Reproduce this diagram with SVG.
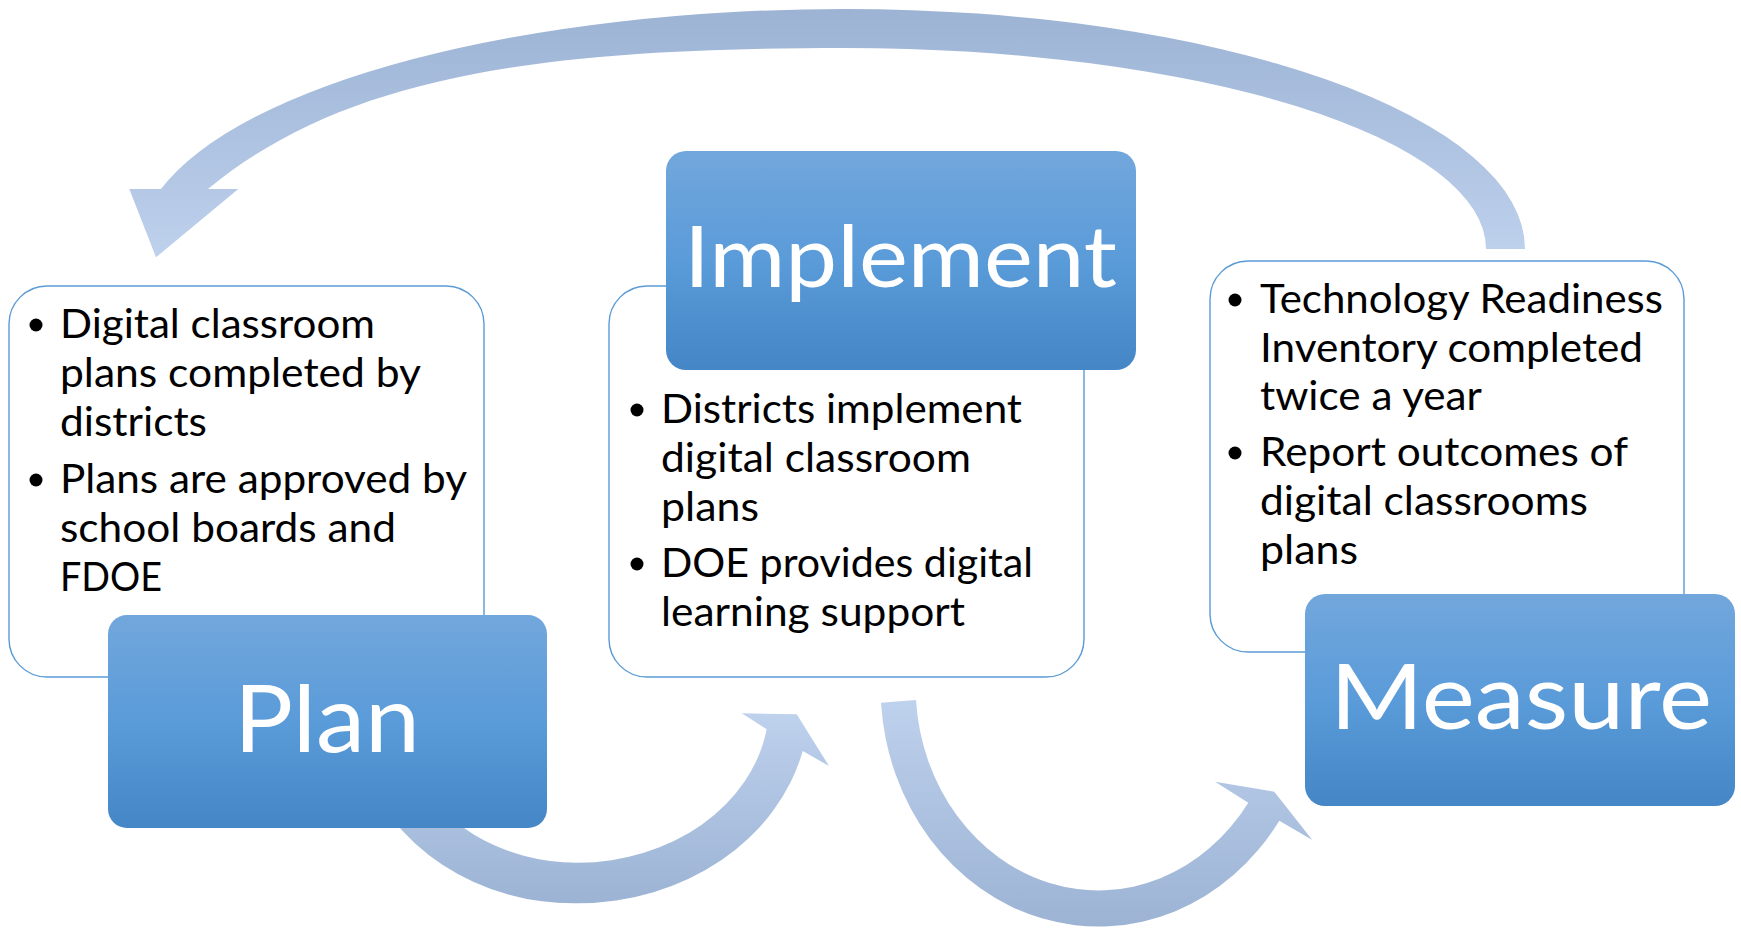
<svg xmlns="http://www.w3.org/2000/svg" width="1741" height="931" viewBox="0 0 1741 931">
<style>
.tb{fill:#ffffff;stroke:#5b9bd5;stroke-width:1.4}
.lb{fill:url(#gLabel)}
.body{font-family:Lato,"Open Sans","Liberation Sans",sans-serif;font-size:40px;fill:#000000}
.title{font-family:Lato,"Open Sans","Liberation Sans",sans-serif;fill:#ffffff;text-anchor:middle}
.dot{fill:#000000}
</style>
<defs>
<linearGradient id="gLabel" x1="0" y1="0" x2="0" y2="1">
<stop offset="0" stop-color="#72a7dc"/>
<stop offset="0.5" stop-color="#5a9bd9"/>
<stop offset="1" stop-color="#4486c6"/>
</linearGradient>
<linearGradient id="gTop" x1="0" y1="0" x2="0" y2="1">
<stop offset="0" stop-color="#9cb3d4"/>
<stop offset="1" stop-color="#bed1ed"/>
</linearGradient>
<linearGradient id="gBottom" x1="0" y1="0" x2="0" y2="1">
<stop offset="0" stop-color="#bed1ed"/>
<stop offset="1" stop-color="#9cb3d4"/>
</linearGradient>
</defs>
<rect width="1741" height="931" fill="#ffffff"/>
<g id="connectors">
<path id="arrow-measure-plan" fill="url(#gTop)" d="M 1525 249 A 680 240 0 0 0 845 9 A 706 240 0 0 0 161 189 L 129.3 189 L 156 257.3 L 238.3 189 L 208 189 C 346.9 74.4 545 48 845 48 A 641 201 0 0 1 1486 249 Z"/>
<path id="arrow-plan-implement" fill="url(#gBottom)" d="M 360.6 760 A 222 200 0 0 0 578 903.3 A 232 200 0 0 0 802.7 751 L 829 766 L 796.7 714.3 L 741.7 713.3 L 766.7 729.3 A 192 159.4 0 0 1 578 862.7 A 182 159.4 0 0 1 407 760 Z"/>
<path id="arrow-implement-measure" fill="url(#gBottom)" d="M 881 702.7 A 218 240 0 0 0 1279.3 820.7 L 1312.3 840 L 1274.3 791.7 L 1215 781.7 L 1248.3 802.7 A 182.7 204.4 0 0 1 916 700 Z"/>
</g>
<g id="node-plan">
<rect class="tb" x="9" y="286" width="475" height="391" rx="38" ry="38"/>
<circle class="dot" cx="36" cy="325" r="6.5"/>
<circle class="dot" cx="36" cy="480" r="6.5"/>
<text class="body" x="60" y="338" textLength="315" lengthAdjust="spacingAndGlyphs">Digital classroom</text>
<text class="body" x="60" y="387" textLength="361" lengthAdjust="spacingAndGlyphs">plans completed by</text>
<text class="body" x="60" y="436" textLength="147" lengthAdjust="spacingAndGlyphs">districts</text>
<text class="body" x="60" y="493" textLength="407" lengthAdjust="spacingAndGlyphs">Plans are approved by</text>
<text class="body" x="60" y="542" textLength="336" lengthAdjust="spacingAndGlyphs">school boards and</text>
<text class="body" x="60" y="591" textLength="102" lengthAdjust="spacingAndGlyphs">FDOE</text>
<rect class="lb" x="108" y="615" width="439" height="213" rx="19" ry="19"/>
<text class="title" x="327" y="752" font-size="94" textLength="186" lengthAdjust="spacingAndGlyphs">Plan</text>
</g>
<g id="node-implement">
<rect class="tb" x="609" y="286" width="475" height="391" rx="38" ry="38"/>
<circle class="dot" cx="637" cy="410" r="6.5"/>
<circle class="dot" cx="637" cy="564" r="6.5"/>
<text class="body" x="661" y="423" textLength="361" lengthAdjust="spacingAndGlyphs">Districts implement</text>
<text class="body" x="661" y="472" textLength="310" lengthAdjust="spacingAndGlyphs">digital classroom</text>
<text class="body" x="661" y="521" textLength="98" lengthAdjust="spacingAndGlyphs">plans</text>
<text class="body" x="661" y="577" textLength="372" lengthAdjust="spacingAndGlyphs">DOE provides digital</text>
<text class="body" x="661" y="626" textLength="304" lengthAdjust="spacingAndGlyphs">learning support</text>
<rect class="lb" x="666" y="151" width="470" height="219" rx="20" ry="20"/>
<text class="title" x="900.5" y="287" font-size="85" textLength="433" lengthAdjust="spacingAndGlyphs">Implement</text>
</g>
<g id="node-measure">
<rect class="tb" x="1210" y="261" width="474" height="391" rx="38" ry="38"/>
<circle class="dot" cx="1235" cy="300" r="6.5"/>
<circle class="dot" cx="1235" cy="453" r="6.5"/>
<text class="body" x="1260" y="313" textLength="403" lengthAdjust="spacingAndGlyphs">Technology Readiness</text>
<text class="body" x="1260" y="362" textLength="383" lengthAdjust="spacingAndGlyphs">Inventory completed</text>
<text class="body" x="1260" y="410" textLength="222" lengthAdjust="spacingAndGlyphs">twice a year</text>
<text class="body" x="1260" y="466" textLength="368" lengthAdjust="spacingAndGlyphs">Report outcomes of</text>
<text class="body" x="1260" y="515" textLength="328" lengthAdjust="spacingAndGlyphs">digital classrooms</text>
<text class="body" x="1260" y="564" textLength="98" lengthAdjust="spacingAndGlyphs">plans</text>
<rect class="lb" x="1305" y="594" width="430" height="212" rx="20" ry="20"/>
<text class="title" x="1521" y="729" font-size="92" textLength="382" lengthAdjust="spacingAndGlyphs">Measure</text>
</g>
</svg>
